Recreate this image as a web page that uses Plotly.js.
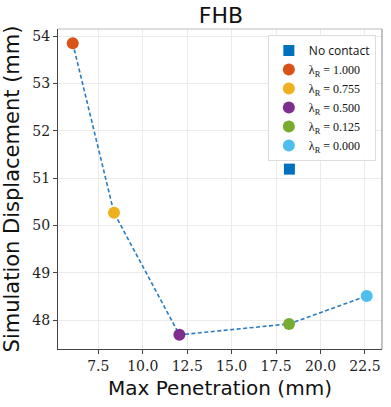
<!DOCTYPE html>
<html>
<head>
<meta charset="utf-8">
<script src="https://cdn.plot.ly/plotly-3.0.1.min.js"></script>
<style>body{margin:0;} #plot{width:391px;height:407px;}</style>
</head>
<body>
<div id="plot"></div>
<script>
// lambda_R sweep
var lambdas = ['1.000', '0.755', '0.500', '0.125', '0.000'];
var penetration = [6.06, 8.38, 12.06, 18.23, 22.6];
var displacement = [53.85, 50.27, 47.69, 47.92, 48.51];
var colors = ['#D95319', '#EDB120', '#7E2F8E', '#77AC30', '#4DBEEE'];

// no contact reference
var noContactX = [18.25];
var noContactY = [51.19];

var serif = "'DejaVu Serif', serif";
var legSerif = "'Liberation Serif', serif";
var sans = "'DejaVu Sans', sans-serif";

var data = [{
  x: penetration,
  y: displacement,
  mode: 'lines',
  line: {color: '#2a7bc4', width: 1.6, dash: '4px,2.5px'},
  showlegend: false,
  hoverinfo: 'skip'
}, {
  x: noContactX,
  y: noContactY,
  mode: 'markers',
  name: '<span style="font-family:\'Open Sans\', sans-serif">No contact</span>',
  marker: {symbol: 'square', size: 11, color: '#0072BD'}
}];

for (var i = 0; i < lambdas.length; i++) {
  data.push({
    x: [penetration[i]],
    y: [displacement[i]],
    mode: 'markers',
    name: '\u03bb<sub>R</sub> = ' + lambdas[i],
    marker: {size: 12, color: colors[i]}
  });
}

var layout = {
  width: 391,
  height: 407,
  margin: {l: 58, r: 9, t: 29, b: 58},
  paper_bgcolor: 'white',
  plot_bgcolor: 'white',
  title: {text: 'FHB', font: {family: sans, size: 22, color: '#111'}, x: 0.565, xanchor: 'center', y: 0.962, yanchor: 'middle'},
  xaxis: {
    title: {text: 'Max Penetration (mm)', font: {family: sans, size: 20, color: '#111'}, standoff: 8},
    range: [5.23, 23.46],
    tick0: 7.5, dtick: 2.5, tickformat: '.1f',
    showgrid: true, gridcolor: '#ebebeb',
    zeroline: false,
    showline: true, linecolor: '#444', linewidth: 1.2,
    ticks: 'outside', ticklen: 4, tickcolor: '#444',
    tickfont: {family: serif, size: 14, color: '#222'}
  },
  yaxis: {
    title: {text: 'Simulation Displacement (mm)', font: {family: sans, size: 21, color: '#111'}, standoff: 6},
    range: [47.39, 54.15],
    dtick: 1,
    showgrid: true, gridcolor: '#ebebeb',
    zeroline: false,
    showline: true, linecolor: '#444', linewidth: 1.2,
    ticks: 'outside', ticklen: 4, tickcolor: '#444',
    tickfont: {family: serif, size: 14, color: '#222'}
  },
  shapes: [
    {type: 'line', xref: 'paper', yref: 'paper', x0: 0, x1: 1, y0: 1, y1: 1, line: {color: '#bbb', width: 1}},
    {type: 'line', xref: 'paper', yref: 'paper', x0: 1, x1: 1, y0: 0, y1: 1, line: {color: '#999', width: 1.2}}
  ],
  legend: {
    x: 0.981, y: 0.981, xanchor: 'right', yanchor: 'top',
    bgcolor: 'rgba(255,255,255,0.9)',
    bordercolor: '#ddd', borderwidth: 1,
    font: {family: legSerif, size: 12, color: '#111'},
    tracegroupgap: 0,
    itemwidth: 30
  },
  showlegend: true
};

Plotly.newPlot('plot', data, layout, {displayModeBar: false});
</script>
</body>
</html>
